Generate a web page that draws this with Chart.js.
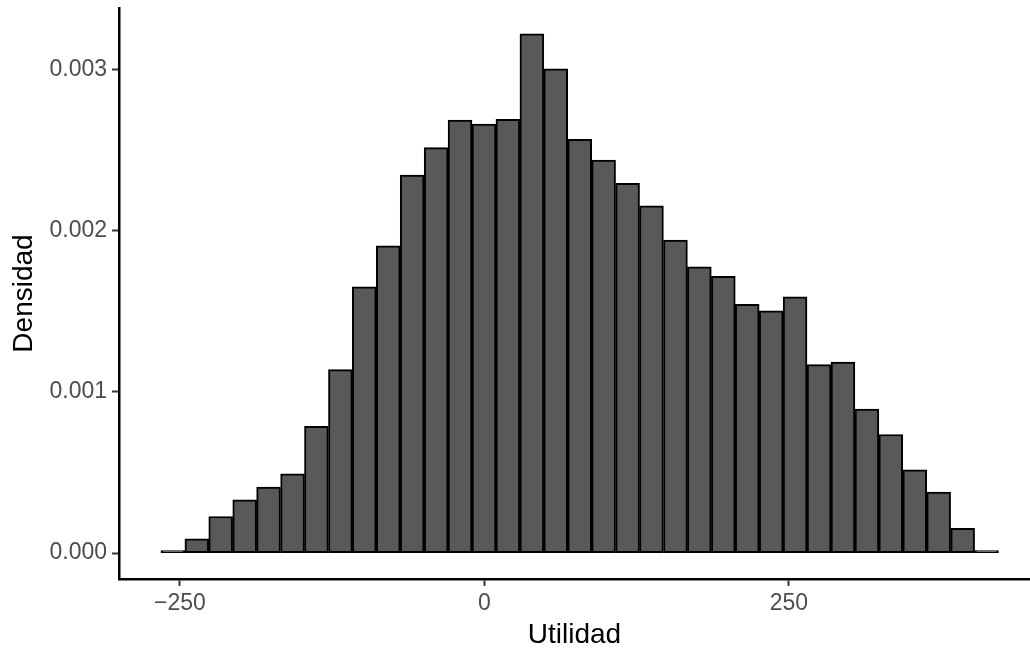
<!DOCTYPE html>
<html>
<head>
<meta charset="utf-8">
<script src="https://cdn.jsdelivr.net/npm/chart.js@4.4.1/dist/chart.umd.min.js"></script>
<style>
    body { margin: 0; background: #fff; }
    #wrap { width: 1030px; height: 649px; }
</style>
</head>
<body>
<div id="wrap"><canvas id="hist"></canvas></div>
<script>
"use strict";

// Histogram bins (centre of each bin) and density
const binCenters = [
    -255.8, -236.1, -216.5, -196.8, -177.2, -157.5, -137.9, -118.2, -98.6, -78.9,
    -59.3, -39.6, -20.0, -0.3, 19.3, 39.0, 58.6, 78.3, 97.9, 117.6,
    137.2, 156.9, 176.5, 196.2, 215.8, 235.5, 255.1, 274.8, 294.4, 314.1,
    333.7, 353.4, 373.0, 392.7, 412.3
];
const densities = [
    0.000016, 0.000088, 0.000227, 0.000331, 0.000409, 0.000492, 0.000786, 0.001139, 0.001652, 0.001907,
    0.002346, 0.002516, 0.002688, 0.002663, 0.002692, 0.003222, 0.003005, 0.002568, 0.002439, 0.002295,
    0.002155, 0.001942, 0.001776, 0.001717, 0.001544, 0.001503, 0.001590, 0.001170, 0.001186, 0.000894,
    0.000736, 0.000517, 0.000378, 0.000154, 0.000016
];

// Axis ticks
const xTicks = [-250, 0, 250];
const yTicks = [0, 0.001, 0.002, 0.003];

const fontFamily = "'Liberation Sans', Arial, Helvetica, sans-serif";

const config = {
    type: 'bar',
    data: {
        datasets: [{
            data: binCenters.map((c, i) => ({ x: c, y: densities[i] })),
            backgroundColor: '#595959',
            borderColor: '#000000',
            borderWidth: 2,
            borderSkipped: false,       // ggplot outlines every side
            barPercentage: 1.0,
            categoryPercentage: 1.0
        }]
    },
    options: {
        responsive: true,
        maintainAspectRatio: false,
        animation: false,
        layout: { padding: { top: 8, right: 0, left: 0, bottom: 0 } },
        plugins: {
            legend: { display: false },
            tooltip: { enabled: false }
        },
        scales: {
            x: {
                type: 'linear',
                min: -300,
                max: 448,
                offset: false,          // no extra half-tick padding on the sides
                afterBuildTicks: scale => { scale.ticks = xTicks.map(v => ({ value: v })); },
                afterFit: scale => { scale.height = 70; },
                ticks: {
                    color: '#4D4D4D',
                    font: { family: fontFamily, size: 23 },
                    padding: 4,
                    maxRotation: 0,
                    callback: v => (v < 0 ? '\u2212' + Math.abs(v) : String(v))
                },
                grid: { offset: false, drawOnChartArea: false, drawTicks: true, tickLength: 7, tickWidth: 2, tickColor: '#333333' },
                border: { display: true, color: '#000000', width: 2.5 },
                title: {
                    display: true,
                    text: 'Utilidad',
                    color: '#000000',
                    font: { family: fontFamily, size: 28, lineHeight: 1.0 },
                    padding: { top: 0, bottom: 0 }
                }
            },
            y: {
                min: -0.000161,
                max: 0.003383,
                afterBuildTicks: scale => { scale.ticks = yTicks.map(v => ({ value: v })); },
                afterFit: scale => { scale.width = 119; },
                ticks: {
                    color: '#4D4D4D',
                    font: { family: fontFamily, size: 23, lineHeight: 0.25 },  // tiny line box so almost no top padding is reserved
                    padding: 5,
                    callback: v => v.toFixed(3)
                },
                grid: { drawOnChartArea: false, drawTicks: true, tickLength: 7, tickWidth: 2, tickColor: '#333333' },
                border: { display: true, color: '#000000', width: 2.5 },
                title: {
                    display: true,
                    text: 'Densidad',
                    color: '#000000',
                    font: { family: fontFamily, size: 28, lineHeight: 1.0 },
                    padding: { top: 10, bottom: 0 }
                }
            }
        }
    }
};

new Chart(document.getElementById("hist"), config);
</script>
</body>
</html>
